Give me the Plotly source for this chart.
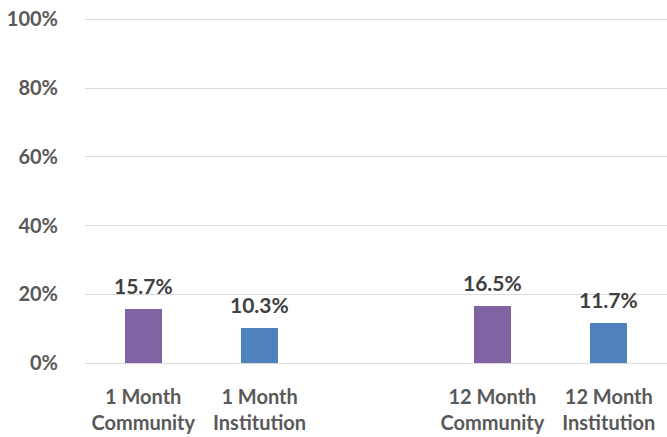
import plotly.graph_objects as go

# slot positions on a 5-slot axis, the middle slot left empty as a spacer
positions = [0, 1, 3, 4]
categories = ["1 Month<br>Community", "1 Month<br>Institution",
              "12 Month<br>Community", "12 Month<br>Institution"]
values = [15.7, 10.3, 16.5, 11.7]
bar_colors = ["#8064A2", "#4F81BD", "#8064A2", "#4F81BD"]

y_ticks = [0, 20, 40, 60, 80, 100]
y_tick_labels = ["0%", "20%", "40%", "60%", "80%", "100%"]

FONT = "Lato"

fig = go.Figure()
fig.add_trace(
    go.Bar(
        x=positions,
        y=values,
        width=0.32,
        marker=dict(color=bar_colors, line=dict(width=0)),
        showlegend=False,
        hoverinfo="skip",
    )
)

# value labels above the bars
for xv, v in zip(positions, values):
    fig.add_annotation(
        x=xv, y=v,
        text="<b>%.1f%%</b>" % v,
        showarrow=False,
        yanchor="bottom",
        yshift=9,
        font=dict(family=FONT, size=21, color="#404040"),
    )

fig.update_layout(
    width=667,
    height=437,
    margin=dict(l=85, r=0, t=18, b=74, autoexpand=False),
    paper_bgcolor="white",
    plot_bgcolor="white",
    bargap=0,
    xaxis=dict(
        range=[-0.5, 4.5],
        tickmode="array",
        tickvals=positions,
        ticktext=["<b>%s</b>" % c for c in categories],
        tickfont=dict(family=FONT, size=20, color="#595959"),
        showgrid=False,
        zeroline=False,
        showline=False,
        ticks="outside",
        ticklen=16,
        tickcolor="white",
        automargin=False,
        ticklabeloverflow="allow",
    ),
    yaxis=dict(
        range=[0, 100.4],
        tickmode="array",
        tickvals=y_ticks,
        ticktext=["<b>%s</b>" % t for t in y_tick_labels],
        tickfont=dict(family=FONT, size=20, color="#595959"),
        showgrid=True,
        gridcolor="#D9D9D9",
        gridwidth=1,
        zeroline=True,
        zerolinecolor="#D9D9D9",
        zerolinewidth=1,
        ticks="outside",
        ticklen=22,
        tickcolor="white",
        automargin=False,
        ticklabeloverflow="allow",
    ),
)

# drop the browser's default 8px body margin so the figure fills the window
fig.write_html(
    "out.html",
    config={"displayModeBar": False},
    post_script="document.body.style.margin = '0px';",
)
